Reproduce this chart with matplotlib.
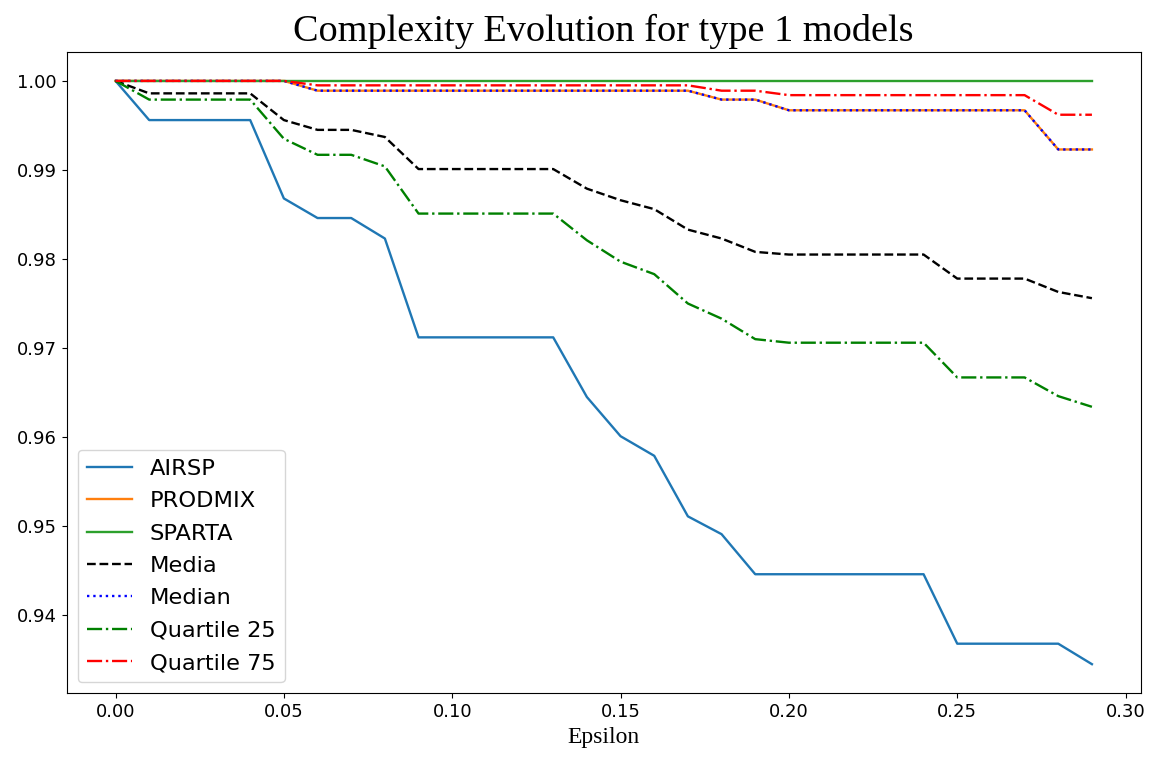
import matplotlib
matplotlib.use('Agg')
import matplotlib.pyplot as plt

# epsilon grid and complexity ratios per model / statistic
epsilon = [0.00, 0.01, 0.02, 0.03, 0.04, 0.05, 0.06, 0.07, 0.08, 0.09,
           0.10, 0.11, 0.12, 0.13, 0.14, 0.15, 0.16, 0.17, 0.18, 0.19,
           0.20, 0.21, 0.22, 0.23, 0.24, 0.25, 0.26, 0.27, 0.28, 0.29]

airsp = [1.0, 0.9956, 0.9956, 0.9956, 0.9956, 0.9868, 0.9846, 0.9846, 0.9823, 0.9712,
         0.9712, 0.9712, 0.9712, 0.9712, 0.9645, 0.9601, 0.9579, 0.9511, 0.9491, 0.9446,
         0.9446, 0.9446, 0.9446, 0.9446, 0.9446, 0.9368, 0.9368, 0.9368, 0.9368, 0.9345]

prodmix = [1.0, 1.0, 1.0, 1.0, 1.0, 1.0, 0.9989, 0.9989, 0.9989, 0.9989,
           0.9989, 0.9989, 0.9989, 0.9989, 0.9989, 0.9989, 0.9989, 0.9989, 0.9979, 0.9979,
           0.9967, 0.9967, 0.9967, 0.9967, 0.9967, 0.9967, 0.9967, 0.9967, 0.9923, 0.9923]

sparta = [1.0] * 30

media = [1.0, 0.9986, 0.9986, 0.9986, 0.9986, 0.9956, 0.9945, 0.9945, 0.9937, 0.9901,
         0.9901, 0.9901, 0.9901, 0.9901, 0.9879, 0.9866, 0.9856, 0.9833, 0.9823, 0.9808,
         0.9805, 0.9805, 0.9805, 0.9805, 0.9805, 0.9778, 0.9778, 0.9778, 0.9763, 0.9756]

median = [1.0, 1.0, 1.0, 1.0, 1.0, 1.0, 0.9989, 0.9989, 0.9989, 0.9989,
          0.9989, 0.9989, 0.9989, 0.9989, 0.9989, 0.9989, 0.9989, 0.9989, 0.9979, 0.9979,
          0.9967, 0.9967, 0.9967, 0.9967, 0.9967, 0.9967, 0.9967, 0.9967, 0.9923, 0.9923]

q25 = [1.0, 0.9979, 0.9979, 0.9979, 0.9979, 0.9935, 0.9917, 0.9917, 0.9904, 0.9851,
       0.9851, 0.9851, 0.9851, 0.9851, 0.9821, 0.9797, 0.9783, 0.9750, 0.9733, 0.9710,
       0.9706, 0.9706, 0.9706, 0.9706, 0.9706, 0.9667, 0.9667, 0.9667, 0.9646, 0.9634]

q75 = [1.0, 1.0, 1.0, 1.0, 1.0, 1.0, 0.9995, 0.9995, 0.9995, 0.9995,
       0.9995, 0.9995, 0.9995, 0.9995, 0.9995, 0.9995, 0.9995, 0.9995, 0.9989, 0.9989,
       0.9984, 0.9984, 0.9984, 0.9984, 0.9984, 0.9984, 0.9984, 0.9984, 0.9962, 0.9962]

fig, ax = plt.subplots(figsize=(11.56, 7.63), dpi=100)
fig.subplots_adjust(left=0.0577, right=0.9868, bottom=0.0913, top=0.9322)

lw = 1.7
ax.plot(epsilon, airsp, label='AIRSP', lw=lw)
ax.plot(epsilon, prodmix, label='PRODMIX', lw=lw)
ax.plot(epsilon, sparta, label='SPARTA', lw=lw)
ax.plot(epsilon, media, 'k--', label='Media', lw=lw)
ax.plot(epsilon, median, 'b:', label='Median', lw=lw)
ax.plot(epsilon, q25, 'g-.', label='Quartile 25', lw=lw)
ax.plot(epsilon, q75, 'r-.', label='Quartile 75', lw=lw)

ax.set_title('Complexity Evolution for type 1 models', family='Liberation Serif',
             fontsize=27.5, pad=8)
ax.set_xlabel('Epsilon', family='Liberation Serif', fontsize=17)
ax.tick_params(labelsize=13)
ax.legend(loc='lower left', fontsize=16.2, labelspacing=0.55)

plt.savefig('out.png')
